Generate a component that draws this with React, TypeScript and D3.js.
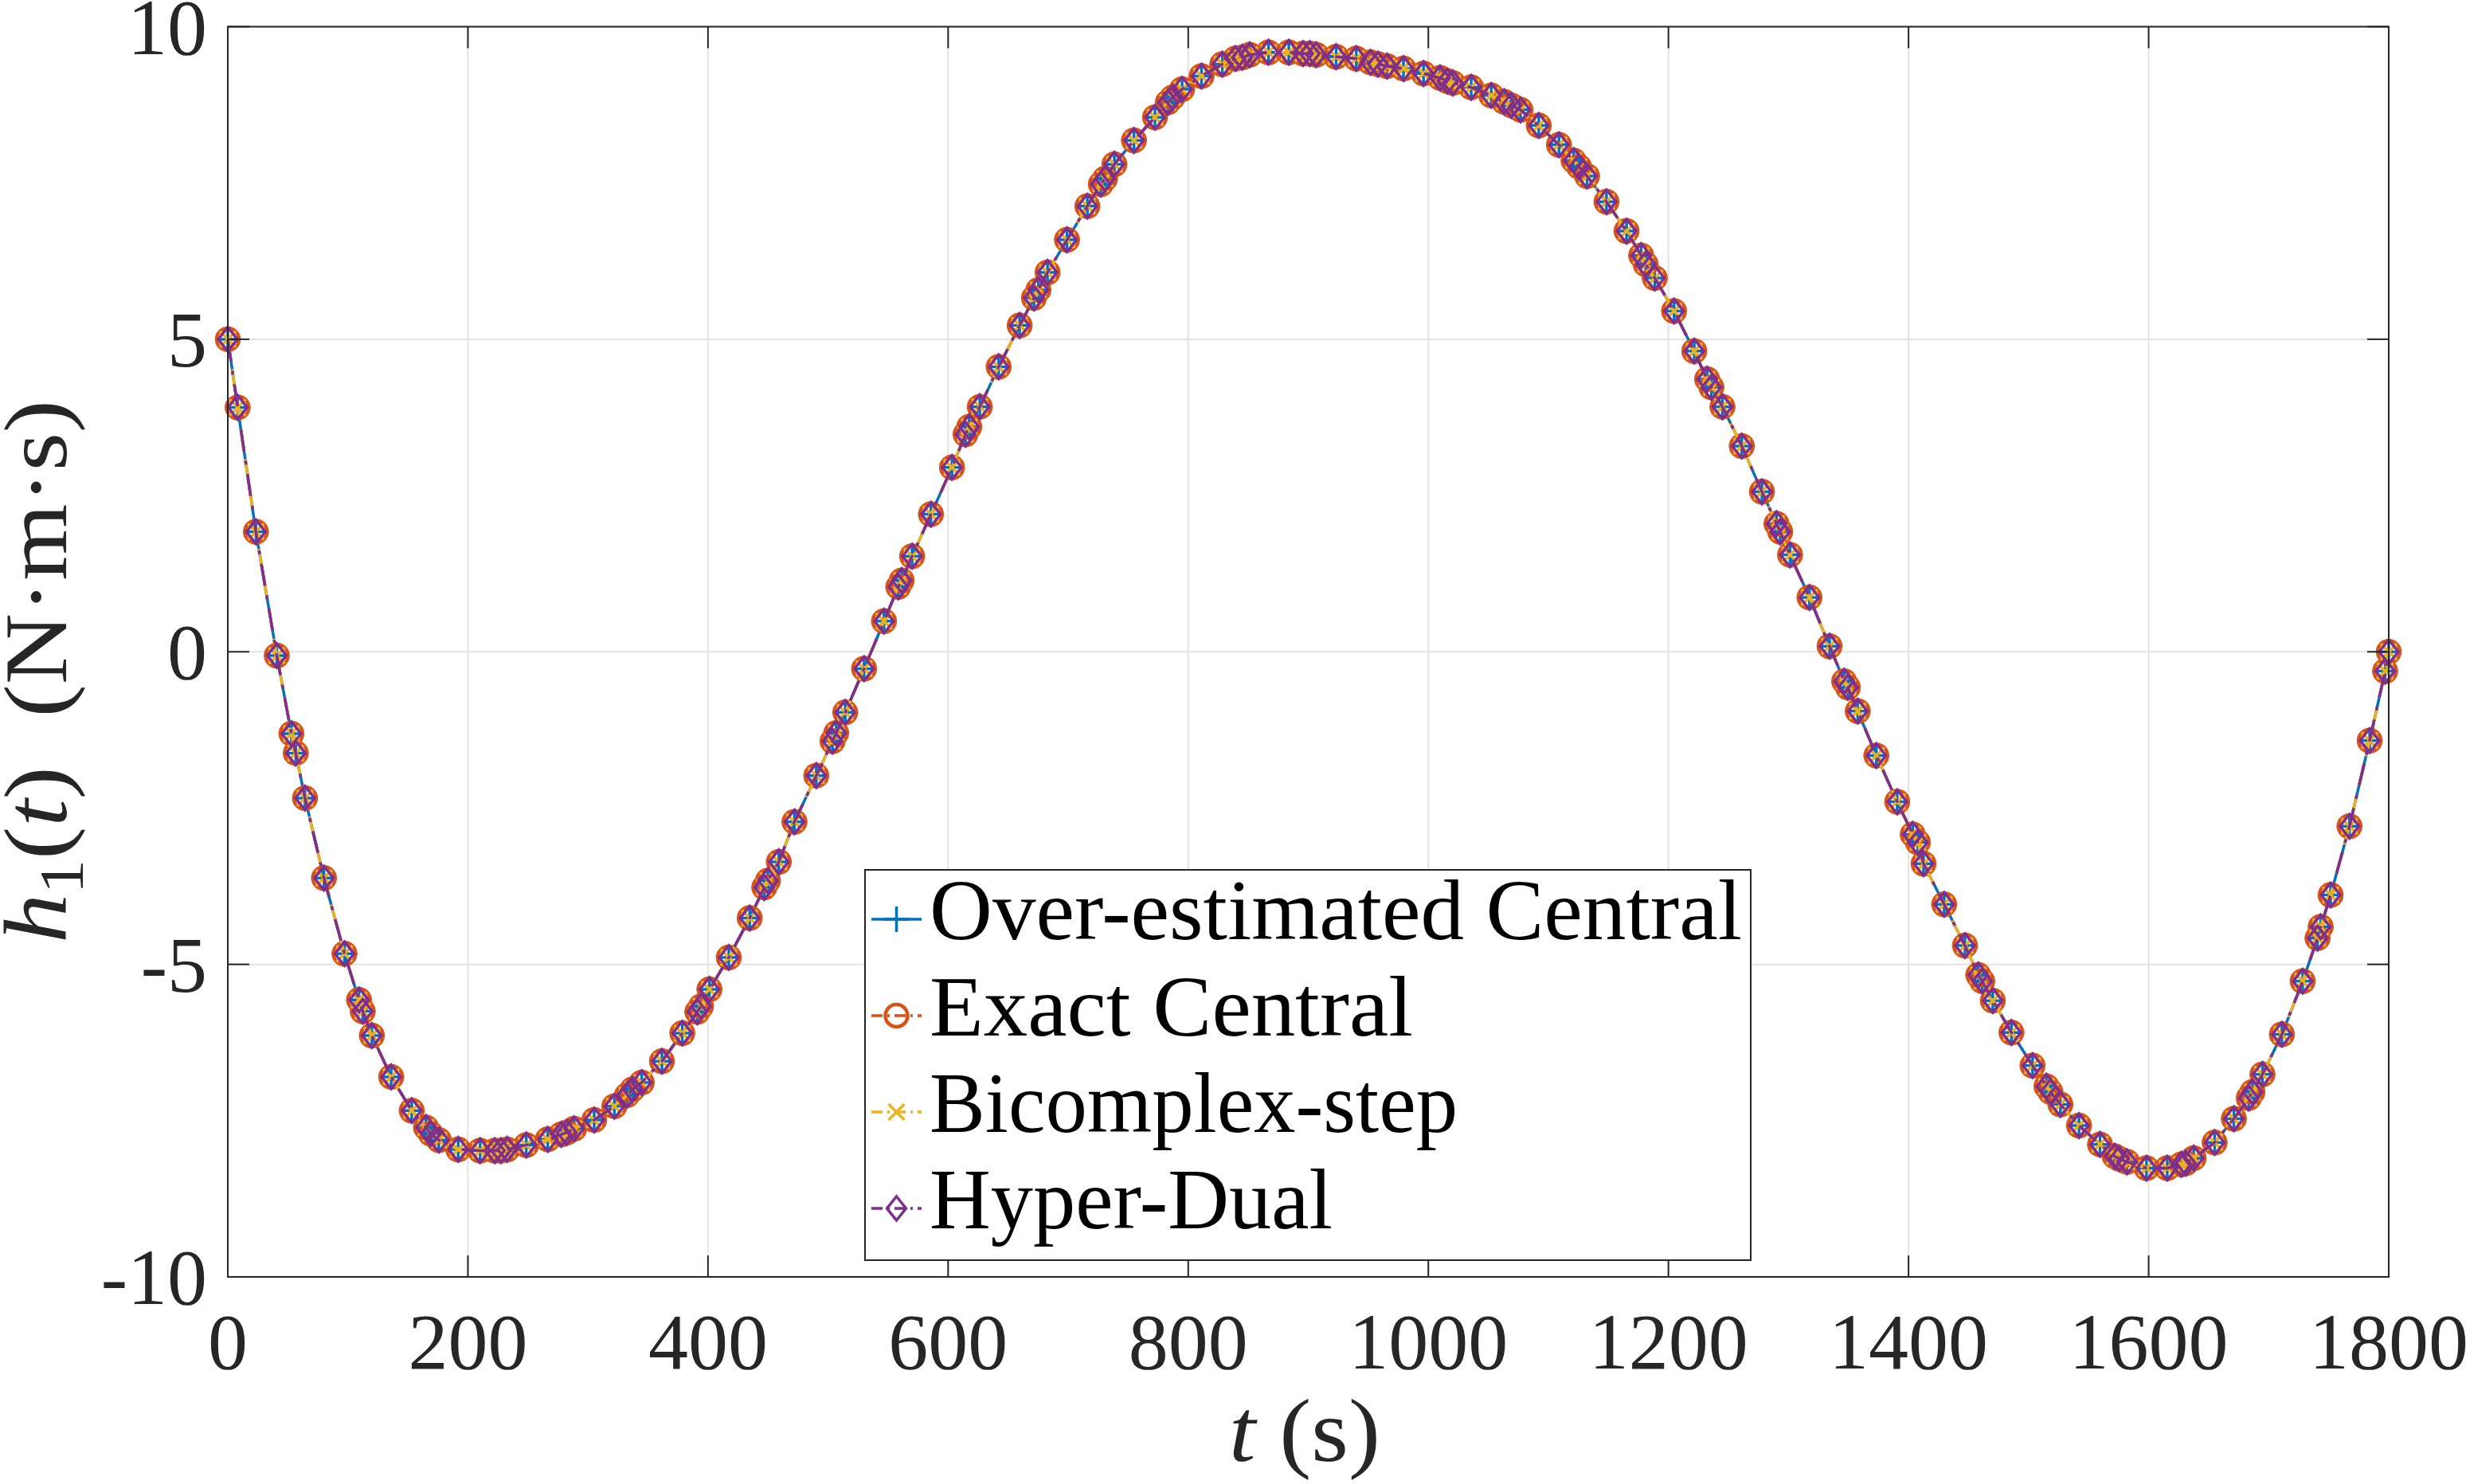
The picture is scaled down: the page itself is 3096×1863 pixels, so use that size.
import * as d3 from 'd3'

// h1(t) samples (solver output times, s) — all four methods coincide
const tValues = [
  0, 8.2, 23.4, 40.8, 53.0, 56.6, 64.3, 80.1, 97.2, 109.3, 112.4, 120.0, 136.1, 153.2, 165.1,
  169.0, 175.8, 191.9, 210.2, 222.4, 227.5, 232.7, 248.6, 266.5, 277.8, 282.4, 288.5, 305.2,
  322.0, 332.6, 337.2, 344.8, 361.6, 378.6, 391.1, 394.2, 401.2, 417.3, 434.7, 446.9, 449.9,
  459.0, 472.0, 490.2, 503.7, 506.8, 514.3, 530.0, 546.6, 558.5, 561.3, 570.0, 585.7, 603.2,
  614.5, 617.6, 626.4, 642.1, 659.6, 671.5, 675.2, 682.8, 699.0, 716.0, 727.2, 730.7, 738.5,
  754.8, 772.3, 783.0, 787.0, 794.9, 811.1, 828.4, 839.3, 845.0, 851.2, 866.9, 883.8, 895.7,
  901.3, 906.6, 923.2, 940.0, 951.9, 958.0, 965.6, 979.3, 996.0, 1009.8, 1015.9, 1020.4,
  1035.7, 1052.4, 1063.1, 1069.2, 1076.8, 1092.0, 1108.8, 1121.0, 1125.5, 1132.2, 1148.4,
  1165.1, 1177.3, 1181.0, 1188.6, 1204.7, 1221.5, 1232.2, 1235.8, 1245.0, 1261.1, 1277.9,
  1290.0, 1293.1, 1301.3, 1317.5, 1334.2, 1346.4, 1349.5, 1357.7, 1373.2, 1390.6, 1403.5,
  1407.8, 1412.5, 1429.7, 1447.0, 1458.1, 1461.4, 1470.2, 1485.7, 1503.3, 1514.9, 1518.2,
  1526.5, 1542.0, 1559.5, 1571.7, 1575.5, 1582.0, 1598.2, 1615.5, 1627.2, 1631.0, 1637.5,
  1655.0, 1671.0, 1683.4, 1686.5, 1694.8, 1711.0, 1728.3, 1740.7, 1743.3, 1751.6, 1767.3,
  1784.1, 1797.0, 1800
]

const h1Values = [
  5.00, 3.91, 1.92, -0.06, -1.31, -1.62, -2.34, -3.62, -4.83, -5.57, -5.75, -6.14, -6.80, -7.34, -7.61,
  -7.71, -7.81, -7.96, -7.98, -7.98, -7.98, -7.96, -7.89, -7.80, -7.72, -7.69, -7.63, -7.49,
  -7.27, -7.09, -7.00, -6.89, -6.55, -6.10, -5.76, -5.67, -5.40, -4.89, -4.26, -3.77, -3.66,
  -3.36, -2.72, -1.98, -1.43, -1.30, -0.97, -0.27, 0.49, 1.04, 1.14, 1.53, 2.20, 2.95,
  3.48, 3.60, 3.92, 4.56, 5.22, 5.66, 5.79, 6.07, 6.59, 7.13, 7.48, 7.57, 7.80,
  8.18, 8.55, 8.79, 8.87, 9.00, 9.21, 9.40, 9.49, 9.51, 9.55, 9.59, 9.59, 9.57,
  9.57, 9.55, 9.52, 9.49, 9.43, 9.40, 9.37, 9.33, 9.25, 9.18, 9.13, 9.10,
  9.03, 8.90, 8.80, 8.74, 8.67, 8.42, 8.11, 7.86, 7.76, 7.61, 7.20,
  6.73, 6.34, 6.20, 5.98, 5.45, 4.81, 4.36, 4.23, 3.92, 3.29, 2.56,
  2.05, 1.92, 1.55, 0.87, 0.09, -0.47, -0.57, -0.95, -1.66, -2.40, -2.92,
  -3.05, -3.39, -4.04, -4.70, -5.17, -5.27, -5.58, -6.09, -6.62, -6.95, -7.04,
  -7.24, -7.58, -7.88, -8.07, -8.11, -8.16, -8.26, -8.26, -8.20, -8.18, -8.10,
  -7.85, -7.47, -7.14, -7.04, -6.76, -6.12, -5.27, -4.58, -4.40, -3.89, -2.79,
  -1.42, -0.31, 0.00
]

const xTicks = [0, 200, 400, 600, 800, 1000, 1200, 1400, 1600, 1800]
const yTicks = [-10, -5, 0, 5, 10]
const seriesNames = ['Over-estimated Central', 'Exact Central', 'Bicomplex-step', 'Hyper-Dual']

const W = 3096, H = 1863
const box = { left: 286, right: 2999, top: 33.5, bottom: 1603 }
const AXIS = '#262626'
const SERIF = '"Liberation Serif", "Times New Roman", serif'

type MarkerKind = 'plus' | 'circle' | 'cross' | 'diamond'

const lineStyles: { color: string; dash?: string; marker: MarkerKind; mw: number }[] = [
  { color: '#0072BD', marker: 'plus', mw: 3.5 },
  { color: '#D95319', dash: '28 12 5 12', marker: 'circle', mw: 4.5 },
  { color: '#EDB120', dash: '24 14', marker: 'cross', mw: 3.5 },
  { color: '#7E2F8E', dash: '28 12 5 12', marker: 'diamond', mw: 3.5 }
]

const x = d3.scaleLinear().domain([0, 1800]).range([box.left, box.right])
const y = d3.scaleLinear().domain([-10, 10]).range([box.bottom, box.top])

const points = tValues.map((t, i) => ({ t, v: h1Values[i] }))

const line = d3.line<{ t: number; v: number }>().x(d => x(d.t)).y(d => y(d.v))

function Marker({ kind, cx, cy, color, sw }: { kind: MarkerKind; cx: number; cy: number; color: string; sw: number }) {
  if (kind === 'circle')
    return <circle cx={cx} cy={cy} r={14} fill="none" stroke={color} strokeWidth={sw} />
  let d = ''
  if (kind === 'plus') d = `M${cx - 16},${cy}H${cx + 16}M${cx},${cy - 16}V${cy + 16}`
  if (kind === 'cross') d = `M${cx - 10},${cy - 10}L${cx + 10},${cy + 10}M${cx - 10},${cy + 10}L${cx + 10},${cy - 10}`
  if (kind === 'diamond') d = `M${cx},${cy - 15}L${cx + 12},${cy}L${cx},${cy + 15}L${cx - 12},${cy}Z`
  return <path d={d} fill="none" stroke={color} strokeWidth={sw} strokeLinejoin="miter" />
}

export default function App() {
  const tick = 27
  const legend = { x: 1086, y: 1092, w: 1112, h: 490 }
  const rowBase = [1179, 1300, 1421, 1542]
  const rowWidth = [1020, 607, 663, 506]

  return (
    <svg width={W} height={H} viewBox={`0 0 ${W} ${H}`}
      style={{ position: 'absolute', left: 0, top: 0, background: '#fff' }}>
      <rect width={W} height={H} fill="#fff" />

      {/* grid */}
      <g stroke="#e3e3e3" strokeWidth={2}>
        {xTicks.map(t => <line key={'gx' + t} x1={x(t)} x2={x(t)} y1={box.top} y2={box.bottom} />)}
        {yTicks.map(v => <line key={'gy' + v} x1={box.left} x2={box.right} y1={y(v)} y2={y(v)} />)}
      </g>

      {/* series */}
      {lineStyles.map((s, si) => (
        <g key={'s' + si}>
          <path d={line(points) ?? ''} fill="none" stroke={s.color} strokeWidth={3.5}
            strokeDasharray={s.dash} />
          {points.map((p, i) => (
            <Marker key={i} kind={s.marker} cx={x(p.t)} cy={y(p.v)} color={s.color} sw={s.mw} />
          ))}
        </g>
      ))}

      {/* axes box and ticks */}
      <g stroke={AXIS} strokeWidth={2} fill="none">
        <rect x={box.left} y={box.top} width={box.right - box.left} height={box.bottom - box.top} />
        {xTicks.map(t => (
          <g key={'tx' + t}>
            <line x1={x(t)} x2={x(t)} y1={box.bottom} y2={box.bottom - tick} />
            <line x1={x(t)} x2={x(t)} y1={box.top} y2={box.top + tick} />
          </g>
        ))}
        {yTicks.map(v => (
          <g key={'ty' + v}>
            <line x1={box.left} x2={box.left + tick} y1={y(v)} y2={y(v)} />
            <line x1={box.right} x2={box.right - tick} y1={y(v)} y2={y(v)} />
          </g>
        ))}
      </g>

      <g fontFamily={SERIF} fontSize={100} fill={AXIS}>
        {xTicks.map(t => (
          <text key={'lx' + t} x={x(t)} y={1718} textAnchor="middle">{t}</text>
        ))}
        {yTicks.map(v => (
          <text key={'ly' + v} x={260} y={y(v) + 34} textAnchor="end">{v}</text>
        ))}
      </g>

      {/* axis labels */}
      <text x={1638} y={1834} textAnchor="middle" fontFamily={SERIF} fontSize={112} fill={AXIS}
        textLength={190} lengthAdjust="spacingAndGlyphs">
        <tspan fontStyle="italic">t</tspan> (s)
      </text>
      <text transform="translate(83,843) rotate(-90)" textAnchor="middle" fontFamily={SERIF}
        fontSize={112} fill={AXIS} textLength={682} lengthAdjust="spacingAndGlyphs"
        style={{ whiteSpace: 'pre' }}>
        <tspan fontStyle="italic">h</tspan>
        <tspan fontSize={78} dy={20}>1</tspan>
        <tspan dy={-20}>(</tspan>
        <tspan fontStyle="italic">t</tspan>
        <tspan>{')  (N·m·s)'}</tspan>
      </text>

      {/* legend */}
      <rect x={legend.x} y={legend.y} width={legend.w} height={legend.h} fill="#fff"
        stroke={AXIS} strokeWidth={2} />
      {seriesNames.map((name, i) => {
        const s = lineStyles[i]
        const cy = rowBase[i] - 25
        return (
          <g key={'lg' + i}>
            <line x1={1094} x2={1157} y1={cy} y2={cy} stroke={s.color} strokeWidth={3.5}
              strokeDasharray={s.dash ? '14 6 3 6' : undefined} />
            <Marker kind={s.marker} cx={1125.5} cy={cy} color={s.color} sw={s.mw} />
            <text x={1167} y={rowBase[i]} fontFamily={SERIF} fontSize={107} fill="#000"
              textLength={rowWidth[i]} lengthAdjust="spacingAndGlyphs">{name}</text>
          </g>
        )
      })}
    </svg>
  )
}
